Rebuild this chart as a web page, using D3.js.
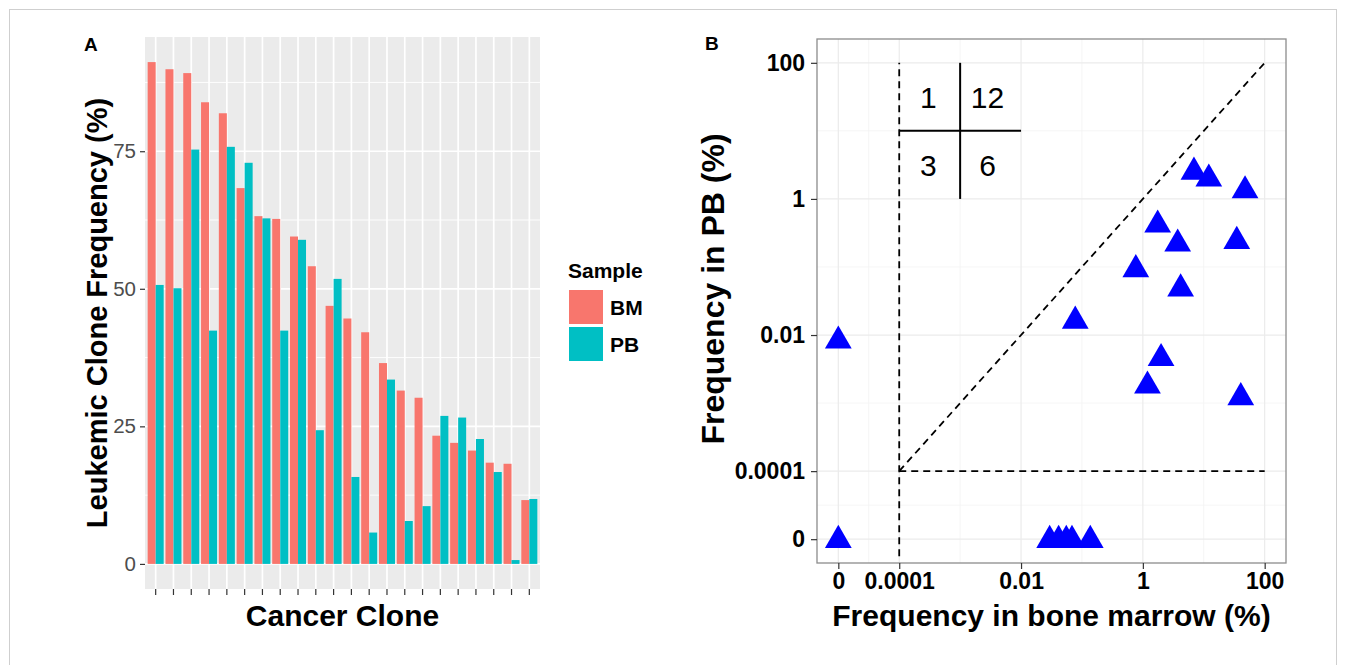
<!DOCTYPE html>
<meta charset='utf-8'>
<body style="margin:0;background:#fff">
<script src='https://cdn.jsdelivr.net/npm/d3@7/dist/d3.min.js'></script>
<script>

    // ---- data ----
    var clones = d3.range(1, 23).map(String);
    var bmFreq = [91.2, 89.9, 89.2, 83.9, 81.9, 68.3, 63.2, 62.7, 59.5, 54.1, 46.9,
                  44.6, 42.1, 36.5, 31.5, 30.2, 23.3, 22.0, 20.6, 18.4, 18.2, 11.6];
    var pbFreq = [50.7, 50.1, 75.3, 42.4, 75.8, 72.9, 62.8, 42.4, 58.9, 24.3, 51.8,
                  15.8, 5.7, 33.5, 7.8, 10.5, 26.9, 26.6, 22.7, 16.7, 0.7, 11.8];
    var samples = ['BM', 'PB'];
    var yTicksA = [0, 25, 50, 75];

    // panel B: frequency in bone marrow vs frequency in PB (%)
    var bmPoint = [0, 0, 0.0295, 0.0414, 0.0553, 0.0686, 0.137, 6.9, 12.1, 47.6, 1.75,
                   3.73, 34.8, 0.766, 4.17, 0.0776, 1.99, 1.19, 40.5];
    var pbPoint = [0.0085, 0, 0, 0, 0, 0, 0, 2.57, 2.04, 1.37, 0.43,
                   0.226, 0.247, 0.095, 0.0496, 0.0166, 0.0047, 0.00185, 0.00125];
    var logTicks = [0, 0.0001, 0.01, 1, 100];
    var logTickLabels = ['0', '0.0001', '0.01', '1', '100'];
    var quadCounts = [1, 12, 3, 6];

    var colors = { BM: '#F8766D', PB: '#00BFC4', panel: '#EBEBEB', point: '#0000FF' };
    var font = 'Liberation Sans, Arial, Helvetica, sans-serif';

    var width = 1346, height = 665;
    var svg = d3.select('body').append('svg')
        .attr('width', width)
        .attr('height', height)
        .style('font-family', font);

    svg.append('rect')
        .attr('x', 9.5).attr('y', 9.5)
        .attr('width', 1327).attr('height', 660)
        .attr('fill', 'none')
        .attr('stroke', '#cfcfcf');

    // ================= panel A =================
    var A = { left: 145, right: 540, top: 37, bottom: 589 };

    var x = d3.scaleBand().domain(clones)
        .range([A.left, A.right])
        .paddingInner(0).paddingOuter(0.1);
    var y = d3.scaleLinear().domain([-4.56, 95.76]).range([A.bottom, A.top]);

    var gA = svg.append('g');

    gA.append('rect')
        .attr('x', A.left).attr('y', A.top)
        .attr('width', A.right - A.left).attr('height', A.bottom - A.top)
        .attr('fill', colors.panel);

    // minor + major grid
    gA.selectAll('.minor')
        .data([12.5, 37.5, 62.5, 87.5])
        .enter().append('line')
        .attr('x1', A.left).attr('x2', A.right)
        .attr('y1', function(d){ return y(d); }).attr('y2', function(d){ return y(d); })
        .attr('stroke', '#fff').attr('stroke-width', 0.9);

    gA.selectAll('.majorY')
        .data(yTicksA)
        .enter().append('line')
        .attr('x1', A.left).attr('x2', A.right)
        .attr('y1', function(d){ return y(d); }).attr('y2', function(d){ return y(d); })
        .attr('stroke', '#fff').attr('stroke-width', 1.7);

    gA.selectAll('.majorX')
        .data(clones)
        .enter().append('line')
        .attr('x1', function(d){ return x(d) + x.bandwidth() / 2; })
        .attr('x2', function(d){ return x(d) + x.bandwidth() / 2; })
        .attr('y1', A.top).attr('y2', A.bottom)
        .attr('stroke', '#fff').attr('stroke-width', 1.7);

    var barW = x.bandwidth() * 0.45;

    gA.selectAll('.bm')
        .data(bmFreq)
        .enter().append('rect')
        .attr('x', function(d, i){ return x(clones[i]) + x.bandwidth() / 2 - barW; })
        .attr('y', function(d){ return y(d); })
        .attr('width', barW)
        .attr('height', function(d){ return y(0) - y(d); })
        .attr('fill', colors.BM);

    gA.selectAll('.pb')
        .data(pbFreq)
        .enter().append('rect')
        .attr('x', function(d, i){ return x(clones[i]) + x.bandwidth() / 2; })
        .attr('y', function(d){ return y(d); })
        .attr('width', barW)
        .attr('height', function(d){ return y(0) - y(d); })
        .attr('fill', colors.PB);

    var yAxisA = gA.append('g')
        .attr('transform', 'translate(' + A.left + ',0)')
        .call(d3.axisLeft(y).tickValues(yTicksA).tickSize(5).tickPadding(4));
    yAxisA.select('.domain').remove();
    yAxisA.selectAll('line').attr('stroke', '#333').attr('stroke-width', 1.2);
    yAxisA.selectAll('text').attr('fill', '#4D4D4D').style('font-size', '20.5px').style('font-family', font);

    var xAxisA = gA.append('g')
        .attr('transform', 'translate(0,' + A.bottom + ')')
        .call(d3.axisBottom(x).tickSize(6).tickFormat(''));
    xAxisA.select('.domain').remove();
    xAxisA.selectAll('line').attr('stroke', '#333').attr('stroke-width', 1.2);

    gA.append('text')
        .attr('transform', 'translate(107,' + (A.top + A.bottom) / 2 + ') rotate(-90)')
        .attr('text-anchor', 'middle')
        .style('font-size', '29px').style('font-weight', 'bold')
        .text('Leukemic Clone Frequency (%)');

    gA.append('text')
        .attr('x', (A.left + A.right) / 2).attr('y', 626)
        .attr('text-anchor', 'middle')
        .style('font-size', '30px').style('font-weight', 'bold')
        .text('Cancer Clone');

    gA.append('text')
        .attr('x', 84).attr('y', 51)
        .style('font-size', '19px').style('font-weight', 'bold')
        .text('A');

    // legend
    var legend = svg.append('g').attr('transform', 'translate(568,0)');
    legend.append('text')
        .attr('x', 0).attr('y', 278)
        .style('font-size', '21px').style('font-weight', 'bold')
        .text('Sample');
    legend.selectAll('rect')
        .data(samples)
        .enter().append('rect')
        .attr('x', 1)
        .attr('y', function(d, i){ return 290 + i * 37; })
        .attr('width', 34).attr('height', 34)
        .attr('fill', function(d){ return colors[d]; });
    legend.selectAll('.lab')
        .data(samples)
        .enter().append('text')
        .attr('x', 42)
        .attr('y', function(d, i){ return 315 + i * 37; })
        .style('font-size', '21px').style('font-weight', 'bold')
        .text(function(d){ return d; });

    // ================= panel B =================
    var B = { left: 817, right: 1286, top: 39, bottom: 563 };
    function tr(v){ return v <= 0 ? -5 : Math.log10(v); }

    var xb = d3.scaleLinear().domain([-5.35, 2.35]).range([B.left, B.right]);
    var yb = d3.scaleLinear().domain([-5.35, 2.35]).range([B.bottom, B.top]);

    var gB = svg.append('g');

    gB.append('rect')
        .attr('x', B.left).attr('y', B.top)
        .attr('width', B.right - B.left).attr('height', B.bottom - B.top)
        .attr('fill', '#fff');

    var minorB = [-4.5, -3, -1, 1];
    var majorB = logTicks.map(tr);

    gB.selectAll('.vminor').data(minorB).enter().append('line')
        .attr('x1', function(d){ return xb(d); }).attr('x2', function(d){ return xb(d); })
        .attr('y1', B.top).attr('y2', B.bottom)
        .attr('stroke', '#F2F2F2').attr('stroke-width', 0.8);
    gB.selectAll('.hminor').data(minorB).enter().append('line')
        .attr('y1', function(d){ return yb(d); }).attr('y2', function(d){ return yb(d); })
        .attr('x1', B.left).attr('x2', B.right)
        .attr('stroke', '#F2F2F2').attr('stroke-width', 0.8);
    gB.selectAll('.vmajor').data(majorB).enter().append('line')
        .attr('x1', function(d){ return xb(d); }).attr('x2', function(d){ return xb(d); })
        .attr('y1', B.top).attr('y2', B.bottom)
        .attr('stroke', '#EBEBEB').attr('stroke-width', 1.2);
    gB.selectAll('.hmajor').data(majorB).enter().append('line')
        .attr('y1', function(d){ return yb(d); }).attr('y2', function(d){ return yb(d); })
        .attr('x1', B.left).attr('x2', B.right)
        .attr('stroke', '#EBEBEB').attr('stroke-width', 1.2);

    // reference lines
    var dashed = [
        [[-4, -5.25], [-4, 2]],
        [[-4, -4], [2, -4]],
        [[-4, -4], [2, 2]]
    ];
    gB.selectAll('.dash').data(dashed).enter().append('line')
        .attr('x1', function(d){ return xb(d[0][0]); }).attr('y1', function(d){ return yb(d[0][1]); })
        .attr('x2', function(d){ return xb(d[1][0]); }).attr('y2', function(d){ return yb(d[1][1]); })
        .attr('stroke', '#000').attr('stroke-width', 1.8)
        .attr('stroke-dasharray', '7,5');

    var cross = [
        [[-3, 0], [-3, 2]],
        [[-4, 1], [-2, 1]]
    ];
    gB.selectAll('.cross').data(cross).enter().append('line')
        .attr('x1', function(d){ return xb(d[0][0]); }).attr('y1', function(d){ return yb(d[0][1]); })
        .attr('x2', function(d){ return xb(d[1][0]); }).attr('y2', function(d){ return yb(d[1][1]); })
        .attr('stroke', '#000').attr('stroke-width', 2);

    var quadPos = [[-3.52, 1.5], [-2.55, 1.5], [-3.52, 0.5], [-2.55, 0.5]];
    gB.selectAll('.quad').data(quadCounts).enter().append('text')
        .attr('x', function(d, i){ return xb(quadPos[i][0]); })
        .attr('y', function(d, i){ return yb(quadPos[i][1]); })
        .attr('dy', '0.36em')
        .attr('text-anchor', 'middle')
        .style('font-size', '30px')
        .text(function(d){ return d; });

    // points
    gB.selectAll('.pt').data(bmPoint).enter().append('path')
        .attr('d', d3.symbol().type(d3.symbolTriangle).size(310))
        .attr('transform', function(d, i){
            return 'translate(' + xb(tr(d)) + ',' + (yb(tr(pbPoint[i])) + 1) + ')';
        })
        .attr('fill', colors.point);

    gB.append('rect')
        .attr('x', B.left).attr('y', B.top)
        .attr('width', B.right - B.left).attr('height', B.bottom - B.top)
        .attr('fill', 'none')
        .attr('stroke', '#8C8C8C').attr('stroke-width', 1.3);

    var fmt = function(d){ return logTickLabels[majorB.indexOf(d)]; };

    var xAxisB = gB.append('g')
        .attr('transform', 'translate(0,' + B.bottom + ')')
        .call(d3.axisBottom(xb).tickValues(majorB).tickFormat(fmt).tickSize(6).tickPadding(4));
    xAxisB.select('.domain').remove();
    xAxisB.selectAll('line').attr('stroke', '#333').attr('stroke-width', 1.2);
    xAxisB.selectAll('text').attr('fill', '#000').style('font-size', '23px')
        .style('font-weight', 'bold').style('font-family', font);

    var yAxisB = gB.append('g')
        .attr('transform', 'translate(' + B.left + ',0)')
        .call(d3.axisLeft(yb).tickValues(majorB).tickFormat(fmt).tickSize(6).tickPadding(6));
    yAxisB.select('.domain').remove();
    yAxisB.selectAll('line').attr('stroke', '#333').attr('stroke-width', 1.2);
    yAxisB.selectAll('text').attr('fill', '#000').style('font-size', '23px')
        .style('font-weight', 'bold').style('font-family', font);

    gB.append('text')
        .attr('x', (B.left + B.right) / 2).attr('y', 626)
        .attr('text-anchor', 'middle')
        .style('font-size', '30px').style('font-weight', 'bold')
        .text('Frequency in bone marrow (%)');

    gB.append('text')
        .attr('transform', 'translate(724,289) rotate(-90)')
        .attr('text-anchor', 'middle')
        .style('font-size', '32px').style('font-weight', 'bold')
        .text('Frequency in PB (%)');

    gB.append('text')
        .attr('x', 705).attr('y', 50)
        .style('font-size', '19px').style('font-weight', 'bold')
        .text('B');

</script>
</body>
